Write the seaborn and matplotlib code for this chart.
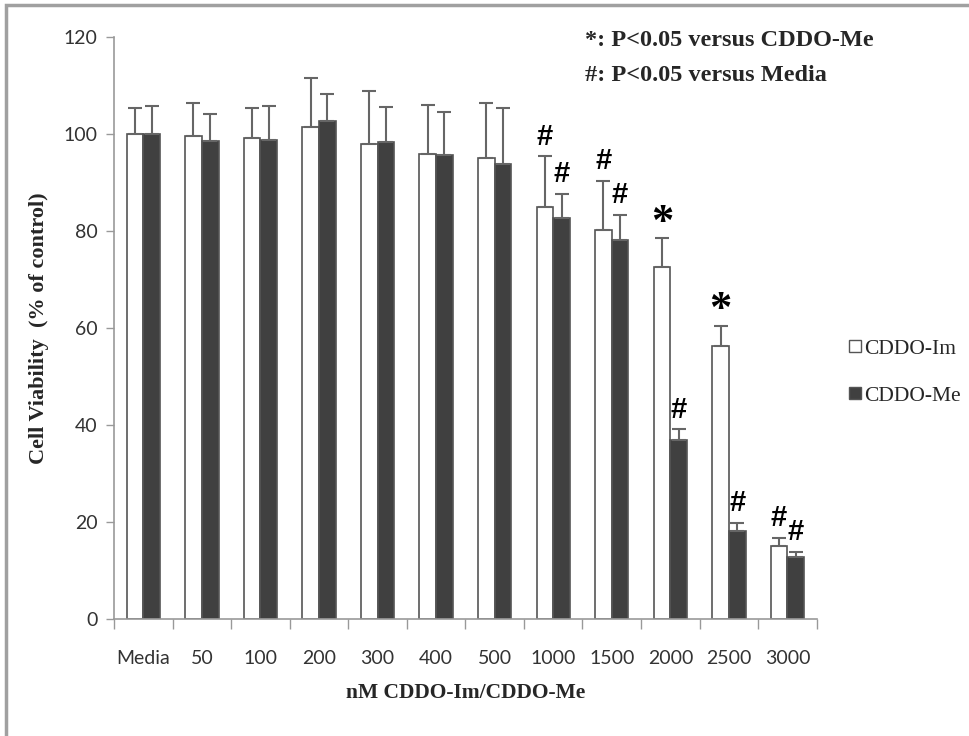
import numpy as np
import pandas as pd
import seaborn as sns
import matplotlib.pyplot as plt
from matplotlib.patches import Rectangle
from matplotlib.lines import Line2D

# data
doses = ["Media", "50", "100", "200", "300", "400", "500",
         "1000", "1500", "2000", "2500", "3000"]
im_mean = [100.0, 99.6, 99.1, 101.4, 98.0, 96.0, 95.0, 85.0, 80.2, 72.6, 56.2, 15.1]
im_err = [5.3, 6.8, 6.2, 10.1, 11.0, 10.1, 11.4, 10.4, 10.1, 6.0, 4.3, 1.6]
me_mean = [100.0, 98.6, 98.8, 102.7, 98.3, 95.7, 93.9, 82.6, 78.1, 37.0, 18.2, 12.8]
me_err = [5.8, 5.6, 7.0, 5.5, 7.3, 8.9, 11.4, 5.1, 5.2, 2.1, 1.6, 1.0]
im_marks = ["", "", "", "", "", "", "", "#", "#", "*", "*", "#"]
me_marks = ["", "", "", "", "", "", "", "#", "#", "#", "#", "#"]
series = ["CDDO-Im", "CDDO-Me"]

df = pd.DataFrame({
    "dose": doses * 2,
    "viability": im_mean + me_mean,
    "err": im_err + me_err,
    "mark": im_marks + me_marks,
    "drug": [series[0]] * len(doses) + [series[1]] * len(doses),
})

sns.set_style("white")
plt.rcParams["font.family"] = ["Lato", "DejaVu Sans"]

fig = plt.figure(figsize=(9.7, 7.36), dpi=100)
ax = fig.add_axes([0.1175, 0.159, 0.7245, 0.7905])

edge = "#555555"
sns.barplot(data=df, x="dose", y="viability", hue="drug", order=doses,
            hue_order=series, palette=["white", "#404040"], errorbar=None,
            width=0.57, gap=0, edgecolor=edge, linewidth=1.2, legend=False, ax=ax)

# upper-only error bars + significance marks, placed on the bars seaborn drew
for cont, drug in zip(ax.containers, series):
    sub = df[df["drug"] == drug].set_index("dose").loc[doses]
    xs = [p.get_x() + p.get_width() / 2 for p in cont.patches]
    hs = [p.get_height() for p in cont.patches]
    ax.errorbar(xs, hs, yerr=[np.zeros(len(xs)), sub["err"].values], fmt="none",
                ecolor="#666666", elinewidth=1.5, capsize=5, capthick=1.5, zorder=1)
    for x, h, e, m in zip(xs, hs, sub["err"].values, sub["mark"].values):
        if m == "#":
            ax.text(x, h + e + 1.2, "#", ha="center", va="bottom", fontsize=21,
                    fontweight="bold", family="Liberation Sans", color="black")
        elif m == "*":
            ax.text(x, h + e - 1.0, "*", ha="center", va="bottom", fontsize=32,
                    fontweight="bold", family="Liberation Serif", color="black")

ax.set_ylim(0, 120)
ax.set_xlim(-0.5, len(doses) - 0.5)
ax.set_yticks(range(0, 121, 20))
ax.set_xticks(np.arange(-0.5, len(doses)), minor=True)
ax.tick_params(axis="x", which="major", length=0, pad=22, labelsize=14, labelcolor="#333333")
ax.tick_params(axis="x", which="minor", length=7, width=1, color="#999999", direction="out")
ax.tick_params(axis="y", length=6, width=1, color="#999999", direction="out",
               labelsize=14, labelcolor="#333333", pad=6)
ax.xaxis.set_ticks_position("bottom")
ax.yaxis.set_ticks_position("left")
sns.despine(ax=ax)
for s in ["left", "bottom"]:
    ax.spines[s].set_color("#999999")
    ax.spines[s].set_linewidth(1.2)

ax.set_xlabel("nM CDDO-Im/CDDO-Me", fontsize=15.5, fontweight="bold",
              family="Liberation Serif", labelpad=12)
ax.set_ylabel("Cell Viability  (% of control)", fontsize=16, fontweight="bold",
              family="Liberation Serif", labelpad=10)

fig.text(0.603, 0.945, "*: P<0.05 versus CDDO-Me", fontsize=17.5, fontweight="bold",
         family="Liberation Serif", va="center")
fig.text(0.603, 0.898, "#: P<0.05 versus Media", fontsize=17.5, fontweight="bold",
         family="Liberation Serif", va="center")

handles = [Line2D([], [], marker="s", linestyle="none", markersize=9,
                  markerfacecolor=c, markeredgecolor=edge, markeredgewidth=1)
           for c in ["white", "#404040"]]
fig.legend(handles, series, loc="center left", bbox_to_anchor=(0.851, 0.494),
           frameon=False, prop={"family": "Liberation Serif", "size": 15.5},
           handletextpad=0.0, labelspacing=1.25, handlelength=0.9)

# thin gray frame around the figure
fig.patches.append(Rectangle((0.006, -0.01), 1.2, 1.003, transform=fig.transFigure,
                             fill=False, edgecolor="#a0a0a0", linewidth=2.5))

fig.savefig("out.png", dpi=100)
